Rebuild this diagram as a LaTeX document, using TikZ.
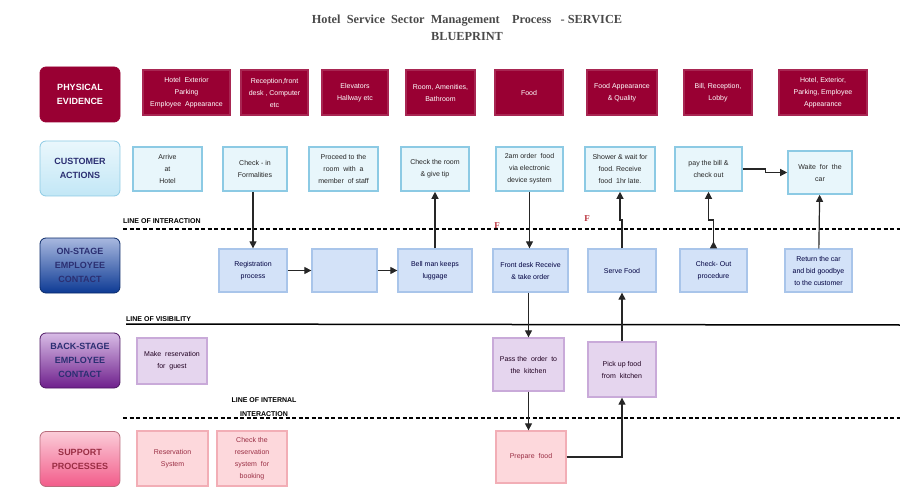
\documentclass[tikz,border=0pt]{standalone}
\usepackage{fontspec}
\setmainfont{Liberation Sans}
\newfontfamily\bpserif{Liberation Serif}
\usetikzlibrary{arrows.meta}
\definecolor{pecrimson}{HTML}{990033}
\definecolor{caborder}{HTML}{8CCAE4}
\definecolor{cafill}{HTML}{E8F6FB}
\definecolor{osborder}{HTML}{A9C5EA}
\definecolor{osfill}{HTML}{D3E2F8}
\definecolor{bsborder}{HTML}{C9AAD9}
\definecolor{bsfill}{HTML}{E5D5EE}
\definecolor{spborder}{HTML}{F2AEB6}
\definecolor{spfill}{HTML}{FDD8DC}
\definecolor{sptext}{HTML}{9A2E44}
\definecolor{labelnavy}{HTML}{2B2F72}
\definecolor{titlegray}{HTML}{4A4A4A}
\definecolor{failred}{HTML}{B8303A}
\definecolor{catop}{HTML}{EAF7FC}
\definecolor{cabottom}{HTML}{C2E7F6}
\definecolor{ostop}{HTML}{A8B8DF}
\definecolor{osbottom}{HTML}{0D3A94}
\definecolor{bstop}{HTML}{D8BCE6}
\definecolor{bsbottom}{HTML}{6E1F8C}
\definecolor{sptop}{HTML}{FBCCD8}
\definecolor{spbottom}{HTML}{F25C8A}
\begin{document}
\begin{tikzpicture}
[x=1pt,y=-1pt,
  rowlabel/.style={rounded corners=6pt,minimum width=80pt,minimum height=55pt,inner sep=0pt,%
    align=center,font=\fontsize{9}{14}\selectfont\bfseries,line width=0.8pt},%
  boxdecorate/.style={minimum height=44pt,inner sep=0pt,align=center,%
    font=\fontsize{7}{12}\selectfont,line width=1.3pt},%
  pebox/.style={boxdecorate,fill=pecrimson,draw=pecrimson!85!white,text=white,minimum height=45pt},%
  cabox/.style={boxdecorate,fill=cafill,draw=caborder,text=black!85,line width=1.6pt},%
  osbox/.style={boxdecorate,fill=osfill,draw=osborder,text=black!75!blue},%
  bsbox/.style={boxdecorate,fill=bsfill,draw=bsborder,text=black!75!violet},%
  spbox/.style={boxdecorate,fill=spfill,draw=spborder,text=sptext},%
  linelabel/.style={font=\fontsize{7}{14}\selectfont\bfseries,inner sep=0pt,align=center},%
  failpoint/.style={font=\bpserif\fontsize{9}{9}\selectfont\bfseries,text=failred,inner sep=0pt},%
  arrowdecorate/.style={-{Triangle[width=7pt,length=7pt]},line width=1.2pt,draw=black!85}]
\useasboundingbox (0,0) rectangle (900,500);
% title
\node (title) at (467,28) [font=\bpserif\fontsize{12.3}{17}\selectfont\bfseries,text=titlegray,align=center]
  {Hotel\ \ Service\ \ Sector\ \ Management\ \ \ \ Process\ \ \ - SERVICE\\BLUEPRINT};
% row labels
\node (lab1) at (80,94.5) [rowlabel,fill=pecrimson,draw=pecrimson,text=white] {PHYSICAL\\EVIDENCE};
\node (lab2) at (80,168.5) [rowlabel,top color=catop,bottom color=cabottom,draw=caborder,text=labelnavy] {CUSTOMER\\ACTIONS};
\node (lab3) at (80,265.5) [rowlabel,top color=ostop,bottom color=osbottom,draw=osbottom!70!black,text=labelnavy] {ON-STAGE\\EMPLOYEE\\CONTACT};
\node (lab4) at (80,360.5) [rowlabel,top color=bstop,bottom color=bsbottom,draw=bsbottom!70!black,text=labelnavy] {BACK-STAGE\\EMPLOYEE\\CONTACT};
\node (lab5) at (80,459) [rowlabel,top color=sptop,bottom color=spbottom,draw=sptext!70,text=sptext] {SUPPORT\\PROCESSES};
% physical evidence
\node (pe1) at (186.5,92.5) [pebox,minimum width=87pt] {Hotel\ \ Exterior\\Parking\\Employee\ \ Appearance};
\node (pe2) at (274.5,92.5) [pebox,minimum width=67pt] {Reception,front\\desk , Computer\\etc};
\node (pe3) at (355,92.5) [pebox,minimum width=66pt] {Elevators\\Hallway etc};
\node (pe4) at (440.5,92.5) [pebox,minimum width=69pt] {Room, Amenities,\\Bathroom};
\node (pe5) at (529,92.5) [pebox,minimum width=68pt] {Food};
\node (pe6) at (622,92.5) [pebox,minimum width=70pt] {Food Appearance\\\& Quality};
\node (pe7) at (718,92.5) [pebox,minimum width=68pt] {Bill, Reception,\\Lobby};
\node (pe8) at (823,92.5) [pebox,minimum width=88pt] {Hotel,\ Exterior,\\Parking, Employee\\Appearance};
% customer actions
\node (ca1) at (167.5,169) [cabox,minimum width=69pt] {Arrive\\at\\Hotel};
\node (ca2) at (255,169) [cabox,minimum width=64pt] {Check - in\\Formalities};
\node (ca3) at (343.5,169) [cabox,minimum width=69pt] {Proceed to the\\room\ \ with\ \ a\\member\ \ of staff};
\node (ca4) at (435,169) [cabox,minimum width=68pt] {Check the room\\\& give tip};
\node (ca5) at (529.5,169) [cabox,minimum width=67pt] {2am order\ \ food\\via electronic\\device system};
\node (ca6) at (620,169) [cabox,minimum width=70pt] {Shower \& wait for\\food.\ Receive\\food\ \ 1hr late.};
\node (ca7) at (708.5,169) [cabox,minimum width=67pt] {pay the bill \&\\check out};
\node (ca8) at (820,172.5) [cabox,minimum width=64pt,minimum height=43pt] {Waite\ \ for\ \ the\\car};
% on-stage employee contact
\node (os1) at (253,270.5) [osbox,minimum width=68pt,minimum height=43pt] {Registration\\process};
\node (os2) at (344.5,270.5) [osbox,minimum width=65pt,minimum height=43pt] {};
\node (os3) at (435,270.5) [osbox,minimum width=74pt,minimum height=43pt] {Bell man keeps\\luggage};
\node (os4) at (530.5,270.5) [osbox,minimum width=75pt,minimum height=43pt] {Front desk Receive\\\& take order};
\node (os5) at (622,270.5) [osbox,minimum width=68pt,minimum height=43pt] {Serve Food};
\node (os6) at (713.5,270.5) [osbox,minimum width=67pt,minimum height=43pt] {Check- Out\\procedure};
\node (os7) at (818.5,270.5) [osbox,minimum width=67pt,minimum height=43pt] {Return the car\\and bid goodbye\\to the customer};
% back-stage employee contact
\node (bs1) at (172,361) [bsbox,minimum width=70pt,minimum height=46pt] {Make\ \ reservation\\for\ \ guest};
\node (bs2) at (528.5,364.5) [bsbox,minimum width=71pt,minimum height=53pt] {Pass the\ \ order\ \ to\\the\ \ kitchen};
\node (bs3) at (622,369.5) [bsbox,minimum width=68pt,minimum height=55pt] {Pick up food\\from\ \ kitchen};
% support processes
\node (sp1) at (172.5,458.5) [spbox,minimum width=71pt,minimum height=55pt] {Reservation\\System};
\node (sp2) at (252,458.5) [spbox,minimum width=70pt,minimum height=55pt] {Check the\\reservation\\system\ \ for\\booking};
\node (sp3) at (531,457) [spbox,minimum width=70pt,minimum height=52pt] {Prepare\ \ food};
% lines of interaction, visibility and internal interaction
\coordinate (ioi-l) at (123,229);
\coordinate (ioi-r) at (900,229);
\coordinate (lov-l) at (126,324);
\coordinate (lov-r) at (900,325);
\coordinate (loii-l) at (123,418);
\coordinate (loii-r) at (900,418);
\draw[line width=1.5pt,dash pattern=on 4pt off 2.5pt] (ioi-l) -- (ioi-r);
\draw[line width=1.5pt] (lov-l) -- (lov-r);
\draw[line width=1.5pt,dash pattern=on 4pt off 2.5pt] (loii-l) -- (loii-r);
\node (ioi) [linelabel,anchor=south west] at (123,224) {LINE OF INTERACTION};
\node (lov) [linelabel,anchor=south west] at (126,322) {LINE OF VISIBILITY};
\node (loii) [linelabel] at (264,407) {LINE OF INTERNAL\\INTERACTION};
% fail points
\node (f1) [failpoint] at (497,226) {F};
\node (f2) [failpoint] at (587,219) {F};
% edges
\path
(os1.north |- ca2.south) edge[arrowdecorate] (os1.north)
(os1) edge[arrowdecorate] (os2)
(os2) edge[arrowdecorate] (os3)
(os3) edge[arrowdecorate] (ca4)
(ca5.south) edge[arrowdecorate] (ca5.south |- os4.north)
(os4.south -| bs2.north) edge[arrowdecorate] (bs2.north)
(bs2.south) edge[arrowdecorate] (bs2.south |- sp3.north)
(bs3) edge[arrowdecorate] (os5)
(os7) edge[arrowdecorate] (ca8);
\draw[arrowdecorate] (sp3.east) -| (bs3.south);
\draw[arrowdecorate] (os5.north) -- (os5.north |- 0,220) -| (ca6.south);
\draw[arrowdecorate,{Triangle[reversed,width=7pt,length=7pt]}-{Triangle[width=7pt,length=7pt]}]
  (os6.north) -- (os6.north |- 0,220) -| (ca7.south);
\draw[arrowdecorate] (ca7.east) -- ++(23,0) |- (ca8.west);
\end{tikzpicture}
\end{document}
